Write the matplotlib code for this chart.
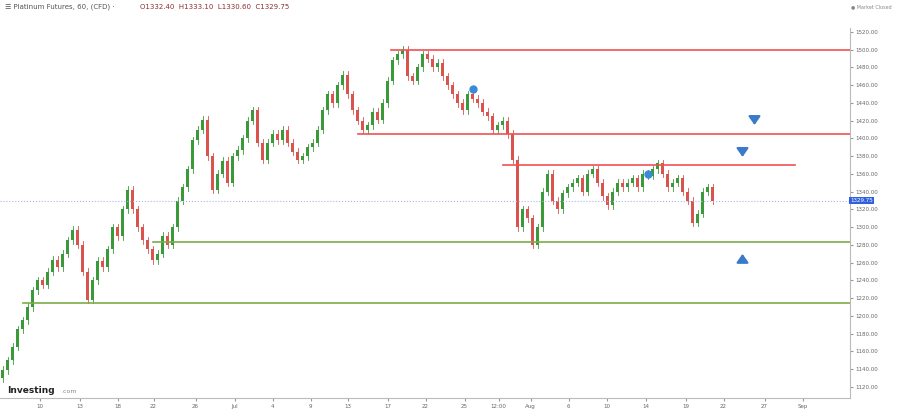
import matplotlib
matplotlib.use("Agg")
import matplotlib.pyplot as plt
from matplotlib.patches import Rectangle

closes = [1139,1150,1165,1185,1195,
          1210,1229,1240,1235,1250,1263,
          1255,1270,1285,1297,1280,1250,1218,
          1240,1262,1255,1275,1300,1290,1320,1342,
          1320,1300,1285,1275,1263,
          1270,1290,1280,1300,1330,1345,1365,
          1398,1410,1421,1380,1342,
          1360,1375,1350,1380,1387,1400,1420,
          1432,1395,1376,1395,1405,1398,1410,
          1395,1385,1376,1380,1390,1395,1410,
          1432,1450,1440,1460,1472,1450,1432,
          1420,1410,1415,1430,1421,1440,1465,
          1488,1495,1500,1470,1465,1480,
          1495,1490,1480,1485,1470,1460,1450,
          1440,1432,1450,1445,1440,1430,1425,
          1410,1415,1420,1405,
          1376,1300,1320,1310,1280,
          1300,1340,1360,1330,1320,1338,
          1345,1350,1355,1340,1360,1365,
          1350,1335,1325,1340,1350,1345,
          1350,1355,1345,1360,1358,1365,1372,
          1360,1345,1350,1355,1340,1330,1305,
          1315,1340,1345,1329.75]
first_open = 1130
red_levels = [(1500, 77.6, 170), (1405, 71, 170), (1370, 100, 158.4)]
green_levels = [(1283, 30, 170), (1215, 4, 170)]
current = 1329.75
tick_px = [37,77,115,151,193,232,270,308,345,385,423,462,496,528,566,604,643,683,721,762,800]
tick_labels = ["10","13","18","22","26","Jul","4","9","13","17","22","25","12:00","Aug","6","10","14","19","22","27","Sep"]
yticks = list(range(1120, 1521, 20))

fig = plt.figure(figsize=(9.01, 4.11), dpi=100)
ax = fig.add_axes([0.0, 13/411, 850/901, 370/411])
up, dn = "#3a9a3a", "#d9534f"
opens = [first_open] + closes[:-1]
for i, (o, c) in enumerate(zip(opens, closes)):
    col = up if c >= o else dn
    ax.plot([i, i], [min(o, c) - 4, max(o, c) + 4], color=col, lw=0.6)
    ax.add_patch(Rectangle((i - 0.25, min(o, c)), 0.5, max(abs(c - o), 0.5), color=col, lw=0))
for v, a, b in red_levels:
    ax.plot([a, b], [v, v], color="#f05050", lw=1.2)
for v, a, b in green_levels:
    ax.plot([a, b], [v, v], color="#7aab4a", lw=1.2)
ax.axhline(current, color="#a8b4f0", lw=0.8, ls=":")
for (x, y0, y1) in [(150.4, 1425, 1412), (148, 1389, 1376), (148, 1260, 1273)]:
    ax.annotate("", xy=(x, y1), xytext=(x, y0),
                arrowprops=dict(arrowstyle="-|>,head_width=0.35,head_length=0.5", color="#3a7ac8", lw=1.6))
ax.plot([94, 129], [1456, 1360], "o", color="#3a8ad8", ms=5)
ax.set_xlim(-0.5, 169.5)
ax.set_ylim(1107.4, 1524.5)
ax.yaxis.tick_right()
ax.set_yticks(yticks)
ax.set_yticklabels([f"{v:.2f}" for v in yticks], fontsize=4, color="#666666")
ax.set_xticks([p / 5 for p in tick_px])
ax.set_xticklabels(tick_labels, fontsize=4, color="#666666")
ax.tick_params(length=2, colors="#999999", labelcolor="#666666", pad=2)
for s in ["top", "left"]:
    ax.spines[s].set_visible(False)
for s in ["right", "bottom"]:
    ax.spines[s].set_color("#bbbbbb")
ax.text(1.0, current, f"{current:.2f}", transform=ax.get_yaxis_transform(), fontsize=4, color="white",
        va="center", ha="left", bbox=dict(boxstyle="square,pad=0.2", fc="#3060e0", ec="none"))
fig.text(0.005, 0.983, "☰ Platinum Futures, 60, (CFD) ·", fontsize=5, color="#555555", va="center")
fig.text(0.155, 0.983, "O1332.40  H1333.10  L1330.60  C1329.75", fontsize=5, color="#8b2e2e", va="center")
fig.text(0.99, 0.983, "● Market Closed", fontsize=3.5, color="#888888", va="center", ha="right")
fig.text(0.008, 0.045, "Investing", fontsize=6.5, fontweight="bold", color="#222222")
fig.text(0.068, 0.045, ".com", fontsize=4.5, color="#888888")
fig.savefig("out.png", dpi=100)
